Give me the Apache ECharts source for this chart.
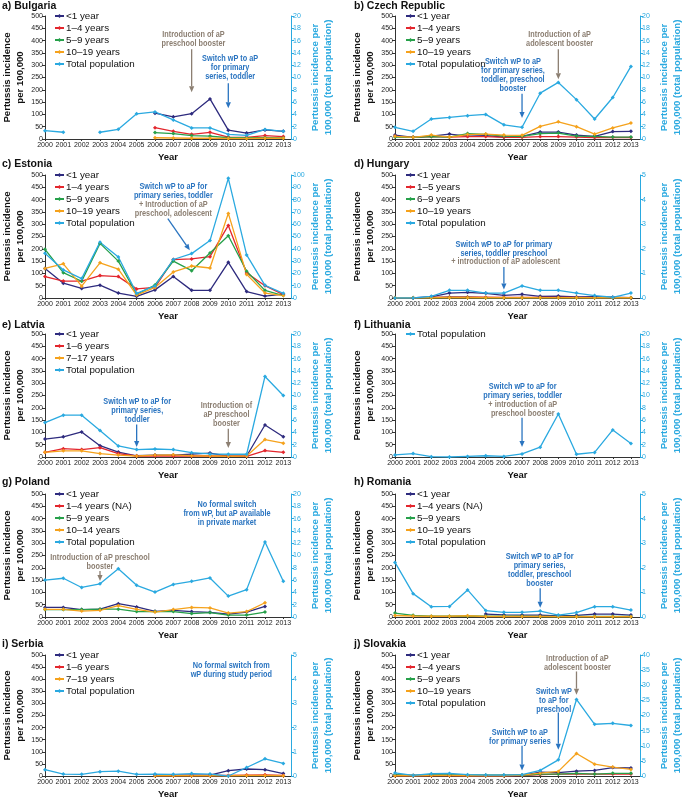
<!DOCTYPE html>
<html>
<head>
<meta charset="utf-8">
<script src="https://cdn.jsdelivr.net/npm/echarts@6/dist/echarts.min.js"></script>
<style>html,body{margin:0;padding:0;background:#fff}#chart{width:685px;height:800px}</style>
</head>
<body>
<div id="chart"></div>
<script>
var years = [2000,2001,2002,2003,2004,2005,2006,2007,2008,2009,2010,2011,2012,2013];

// a) Bulgaria
var bgLt1   = [null,null,null,null,null,null,105,90,103,163,36,24,37,31];
var bg1to4  = [null,null,null,null,null,null,46,31,19,27,8,7,14,10];
var bg5to9  = [null,null,null,null,null,null,26,22,14,12,5,5,5,4];
var bg10to19= [null,null,null,null,null,null,5,4,3,3,2,2,3,3];
var bgTotal = [1.35,1.1,null,1.1,1.57,4.1,4.4,3.1,1.8,1.8,0.75,0.6,1.55,1.25];
// b) Czech Republic
var czLt1   = [16,7,12,20,12,14,8,11,28,28,16,11,30,31];
var cz1to4  = [11,7,10,8,10,10,7,7,10,10,8,6,7,6];
var cz5to9  = [8,7,10,8,22,19,12,11,22,24,12,11,8,8];
var cz10to19= [11,7,16,8,18,20,16,15,51,70,50,20,45,65];
var czTotal = [1.9,1.25,3.25,3.5,3.8,4.0,2.3,1.9,7.45,9.2,6.4,3.25,6.75,11.8];
// c) Estonia
var eeLt1   = [120,60,39,52,20,7,33,87,31,31,145,26,8,16];
var ee1to4  = [87,69,69,91,87,37,43,156,159,168,295,102,50,14];
var ee5to9  = [198,103,68,222,150,15,53,150,111,183,253,109,31,10];
var ee10to19= [120,139,48,143,117,12,43,106,130,122,344,96,20,10];
var eeTotal = [36.4,22.8,15.8,45.4,33.4,3.8,9.8,31.3,36.1,46.7,97.3,35,10.3,3.8];
// d) Hungary
var huLt1   = [0,0,5,20,23,19,11,15,7,8,4,5,3,1];
var hu1to5  = [1,1,2,4,4,3,2,2,2,2,2,1,1,1];
var hu6to9  = [1,1,1,2,2,1,1,1,1,1,1,1,1,1];
var hu10to19= [1,1,1,1,1,1,1,1,1,1,1,1,1,1];
var huTotal = [0,0,0.07,0.31,0.31,0.2,0.2,0.49,0.31,0.31,0.2,0.1,0.03,0.2];
// e) Latvia
var lvLt1   = [73,82,102,46,20,5,8,8,12,16,3,4,130,82];
var lv1to6  = [19,34,30,38,14,4,5,4,4,4,3,3,26,19];
var lv7to17 = [19,25,25,14,8,4,8,9,5,4,3,4,71,56];
var lvTotal = [5.6,6.8,6.8,4.3,1.8,1.2,1.3,1.2,0.7,0.5,0.45,0.45,13.1,10.0];
// f) Lithuania
var ltTotal = [0.33,0.55,0.05,0,0.1,0.2,0.1,0.5,1.6,7.0,0.45,0.75,4.4,2.2];
// g) Poland
var plLt1   = [39,39,30,32,54,41,23,27,22,19,12,20,43,null];
var pl1to4  = [null,null,null,null,null,null,null,null,null,null,null,null,null,null];
var pl5to9  = [30,30,30,32,32,22,22,22,14,18,8,8,20,null];
var pl10to14= [31,31,24,27,46,31,20,30,39,37,16,22,58,null];
var plTotal = [6.0,6.3,4.8,5.4,7.85,5.15,4.05,5.3,5.8,6.35,3.4,4.45,12.2,5.8];
// h) Romania
var roLt1   = [null,null,null,null,null,12,9,8,8,4,7,12,12,8];
var ro1to4  = [null,null,null,null,null,null,null,null,null,null,null,null,null,null];
var ro5to9  = [16,7,3,3,4,3,3,3,2,2,2,2,2,2];
var ro10to19= [6,4,3,3,5,2,2,2,2,1,1,1,1,1];
var roTotal = [2.22,0.95,0.42,0.43,1.1,0.26,0.19,0.19,0.24,0.08,0.18,0.42,0.42,0.28];
// i) Serbia
var rsLt1   = [null,null,null,null,null,null,4,3,3,4,22,29,26,10];
var rs1to6  = [null,null,null,null,null,null,2,2,2,2,2,4,5,2];
var rs7to19 = [null,null,null,null,null,null,1,1,1,1,1,2,2,1];
var rsTotal = [0.26,0.08,0.07,0.18,0.2,0.07,0.08,0.07,0.1,0.08,0,0.35,0.71,0.52];
// j) Slovakia
var skLt1   = [3,2,3,3,2,2,2,3,16,14,20,23,35,33];
var sk1to4  = [2,1,2,2,1,1,1,2,6,8,9,8,8,8];
var sk5to9  = [5,2,5,5,3,3,3,3,8,8,11,8,11,11];
var sk10to19= [1,1,2,2,1,1,1,4,12,19,93,49,37,27];
var skTotal = [1.0,0.2,0.75,0.85,0.45,0.3,0.3,0.45,1.85,5.35,25.3,17.1,17.4,16.7];

var NAVY = '#2e2b7e', RED = '#e3262d', GREEN = '#26a04a', ORANGE = '#f5a21c', SKY = '#2aa9e0';
var BLUE_TXT = '#2a74c0', BROWN_TXT = '#8c7f72';
var FONT = '"Liberation Sans", Arial, sans-serif';

var panels = [
  {title:'a) Bulgaria', rMax:20, rInt:2,
   lines:[['<1 year',bgLt1,NAVY],['1–4 years',bg1to4,RED],['5–9 years',bg5to9,GREEN],['10–19 years',bg10to19,ORANGE],['Total population',bgTotal,SKY,1]],
   notes:[[2008.1,405,'Introduction of aP\npreschool booster',BROWN_TXT],[2010.1,288,'Switch wP to aP\nfor primary\nseries, toddler',BLUE_TXT]],
   arrows:[[2008,365,2008,190,BROWN_TXT],[2010,227,2010,125,BLUE_TXT]]},
  {title:'b) Czech Republic', rMax:20, rInt:2,
   lines:[['<1 year',czLt1,NAVY],['1–4 years',cz1to4,RED],['5–9 years',cz5to9,GREEN],['10–19 years',cz10to19,ORANGE],['Total population',czTotal,SKY,1]],
   notes:[[2006.5,259,'Switch wP to aP\nfor primary series,\ntoddler, preschool\nbooster',BLUE_TXT],[2009.07,405,'Introduction of aP\nadolescent booster',BROWN_TXT]],
   arrows:[[2007,184,2007,85,BLUE_TXT],[2009,365,2009,243,BROWN_TXT]]},
  {title:'c) Estonia', rMax:100, rInt:10,
   lines:[['<1 year',eeLt1,NAVY],['1–4 years',ee1to4,RED],['5–9 years',ee5to9,GREEN],['10–19 years',ee10to19,ORANGE],['Total population',eeTotal,SKY,1]],
   notes:[[2007,435,'Switch wP to aP for\nprimary series, toddler',BLUE_TXT],[2007,361,'+ Introduction of aP\npreschool, adolescent',BROWN_TXT]],
   arrows:[[2006.7,323,2007.9,194,BLUE_TXT]]},
  {title:'d) Hungary', rMax:5, rInt:1,
   lines:[['<1 year',huLt1,NAVY],['1–5 years',hu1to5,RED],['6–9 years',hu6to9,GREEN],['10–19 years',hu10to19,ORANGE],['Total population',huTotal,SKY,1]],
   notes:[[2006,200,'Switch wP to aP for primary\nseries, toddler preschool',BLUE_TXT],[2006.1,147,'+ introduction of aP adolescent',BROWN_TXT]],
   arrows:[[2006,126,2006,35,BLUE_TXT]]},
  {title:'e) Latvia', rMax:20, rInt:2,
   lines:[['<1 year',lvLt1,NAVY],['1–6 years',lv1to6,RED],['7–17 years',lv7to17,ORANGE],['Total population',lvTotal,SKY,1]],
   notes:[[2005.03,190,'Switch wP to aP for\nprimary series,\ntoddler',BLUE_TXT],[2009.9,171,'Introduction of\naP preschool\nbooster',BROWN_TXT]],
   arrows:[[2005,132,2005,41,BLUE_TXT],[2010,115,2010,37,BROWN_TXT]]},
  {title:'f) Lithuania', rMax:20, rInt:2,
   lines:[['Total population',ltTotal,SKY,1]],
   notes:[[2007.04,268,'Switch wP to aP for\nprimary series, toddler',BLUE_TXT],[2007.04,196,'+ introduction of aP\npreschool booster',BROWN_TXT]],
   arrows:[[2007,160,2007,41,BLUE_TXT]]},
  {title:'g) Poland', rMax:20, rInt:2,
   lines:[['<1 year',plLt1,NAVY],['1–4 years (NA)',pl1to4,RED],['5–9 years',pl5to9,GREEN],['10–14 years',pl10to14,ORANGE],['Total population',plTotal,SKY,1]],
   notes:[[2009.93,421,'No formal switch\nfrom wP, but aP available\nin private market',BLUE_TXT],[2003,224,'Introduction of aP preschool\nbooster',BROWN_TXT]],
   arrows:[[2003,187,2003,146,BROWN_TXT]]},
  {title:'h) Romania', rMax:5, rInt:1,
   lines:[['<1 year',roLt1,NAVY],['1–4 years (NA)',ro1to4,RED],['5–9 years',ro5to9,GREEN],['10–19 years',ro10to19,ORANGE],['Total population',roTotal,SKY,1]],
   notes:[[2007.97,192,'Switch wP to aP for\nprimary series,\ntoddler, preschool\nbooster',BLUE_TXT]],
   arrows:[[2008,117,2008,38,BLUE_TXT]]},
  {title:'i) Serbia', rMax:5, rInt:1,
   lines:[['<1 year',rsLt1,NAVY],['1–6 years',rs1to6,RED],['7–19 years',rs7to19,ORANGE],['Total population',rsTotal,SKY,1]],
   notes:[[2010.16,438,'No formal switch from\nwP during study period',BLUE_TXT]],
   arrows:[]},
  {title:'j) Slovakia', rMax:40, rInt:5,
   lines:[['<1 year',skLt1,NAVY],['1–4 years',sk1to4,RED],['5–9 years',sk5to9,GREEN],['10–19 years',sk10to19,ORANGE],['Total population',skTotal,SKY,1]],
   notes:[[2010.05,467,'Introduction of aP\nadolescent booster',BROWN_TXT],[2008.75,312,'Switch wP\nto aP for\npreschool',BLUE_TXT],[2006.88,160,'Switch wP to aP\nfor primary series',BLUE_TXT]],
   arrows:[[2010,432,2010,336,BROWN_TXT],[2009,262,2009,108,BLUE_TXT],[2007,125,2007,23,BLUE_TXT]]}
];

var rowTop = [16,175,334,494,655];
var titleTop = [1,159,320,477,639];
var colLeft = [44,395], colWidth = [247,249], colMax = [2013.42,2013.5];
var plotH = 123;

var grids = [], xAxes = [], yAxes = [], series = [], legends = [], titles = [];

panels.forEach(function (p, i) {
  var col = i % 2, row = Math.floor(i / 2);
  grids.push({left: colLeft[col], top: rowTop[row], width: colWidth[col], height: plotH});
  titles.push({text: p.title, left: col ? 354 : 2, top: titleTop[row], padding: 0,
    textStyle: {fontSize: 10.5, fontWeight: 'bold', color: '#111', fontFamily: FONT}});
  xAxes.push({type: 'value', gridIndex: i, min: 2000, max: colMax[col], interval: 1,
    axisLine: {lineStyle: {color: '#333', width: 1}},
    axisTick: {length: 2, lineStyle: {color: '#333'}},
    axisLabel: {fontSize: 7, margin: 3, color: '#222', fontFamily: FONT, showMaxLabel: false,
      formatter: function (v) { return String(v); }},
    splitLine: {show: false},
    name: 'Year', nameLocation: 'middle', nameGap: 13,
    nameTextStyle: {fontSize: 9.5, fontWeight: 'bold', color: '#111', fontFamily: FONT}});
  yAxes.push({type: 'value', gridIndex: i, position: 'left', min: 0, max: 500, interval: 50,
    axisLine: {show: true, lineStyle: {color: '#333', width: 1}},
    axisTick: {show: true, length: 3, lineStyle: {color: '#333'}},
    axisLabel: {fontSize: 7, margin: 2, color: '#222', fontFamily: FONT},
    splitLine: {show: false},
    name: 'Pertussis incidence\nper 100,000', nameLocation: 'middle', nameGap: 18, nameRotate: 90,
    nameTextStyle: {fontSize: 9.6, fontWeight: 'bold', color: '#111', lineHeight: 13, fontFamily: FONT}});
  yAxes.push({type: 'value', gridIndex: i, position: 'right', min: 0, max: p.rMax, interval: p.rInt,
    axisLine: {show: true, lineStyle: {color: SKY, width: 1}},
    axisTick: {show: true, length: 3, lineStyle: {color: SKY}},
    axisLabel: {fontSize: 7, margin: 2, color: SKY, fontFamily: FONT},
    splitLine: {show: false},
    name: 'Pertussis incidence per\n100,000 (total population)', nameLocation: 'middle', nameGap: 18, nameRotate: 90,
    nameTextStyle: {fontSize: 9.6, fontWeight: 'bold', color: SKY, lineHeight: 13, fontFamily: FONT}});
  var names = [];
  p.lines.forEach(function (l) {
    names.push(l[0]);
    series.push({
      name: l[0], type: 'line', xAxisIndex: i, yAxisIndex: l[3] ? 2 * i + 1 : 2 * i,
      data: years.map(function (y, k) { return [y, l[1][k] == null ? '-' : l[1][k]]; }),
      symbol: 'diamond', symbolSize: 4, showSymbol: true,
      itemStyle: {color: l[2]}, lineStyle: {color: l[2], width: 1.3},
      connectNulls: false, animation: false
    });
  });
  legends.push({orient: 'vertical', left: colLeft[col] + 10, top: rowTop[row] - 5, data: names,
    itemWidth: 9, itemHeight: 5, itemGap: 2, selectedMode: false, padding: 0,
    textStyle: {fontSize: 9.8, color: '#111', fontFamily: FONT, padding: [0, 0, 0, -3]}});
});

var myChart = echarts.init(document.getElementById('chart'));
myChart.setOption({
  animation: false,
  title: titles, grid: grids, xAxis: xAxes, yAxis: yAxes, legend: legends, series: series
});

// annotations placed with the axes' own conversion; text squeezed to mimic the condensed face
var g = [];
panels.forEach(function (p, i) {
  var finder = {xAxisIndex: i, yAxisIndex: 2 * i};
  p.notes.forEach(function (n) {
    var pt = myChart.convertToPixel(finder, [n[0], n[1]]);
    g.push({type: 'text', x: pt[0], y: pt[1], scaleX: 0.86, z: 100,
      style: {x: 0, y: 0, text: n[2], fill: n[3], font: 'bold 8.5px ' + FONT, lineHeight: 9,
        textAlign: 'center', textVerticalAlign: 'middle'}});
  });
  p.arrows.forEach(function (a) {
    var p0 = myChart.convertToPixel(finder, [a[0], a[1]]);
    var p1 = myChart.convertToPixel(finder, [a[2], a[3]]);
    var dx = p1[0] - p0[0], dy = p1[1] - p0[1], len = Math.sqrt(dx * dx + dy * dy);
    var ux = dx / len, uy = dy / len, hl = 6, hw = 2.6;
    var bx = p1[0] - ux * hl, by = p1[1] - uy * hl;
    g.push({type: 'line', z: 100, shape: {x1: p0[0], y1: p0[1], x2: bx, y2: by},
      style: {stroke: a[4], lineWidth: 1.3}});
    g.push({type: 'polygon', z: 100, shape: {points: [[p1[0], p1[1]], [bx - uy * hw, by + ux * hw], [bx + uy * hw, by - ux * hw]]},
      style: {fill: a[4]}});
  });
});
myChart.setOption({graphic: g});
</script>
</body>
</html>
